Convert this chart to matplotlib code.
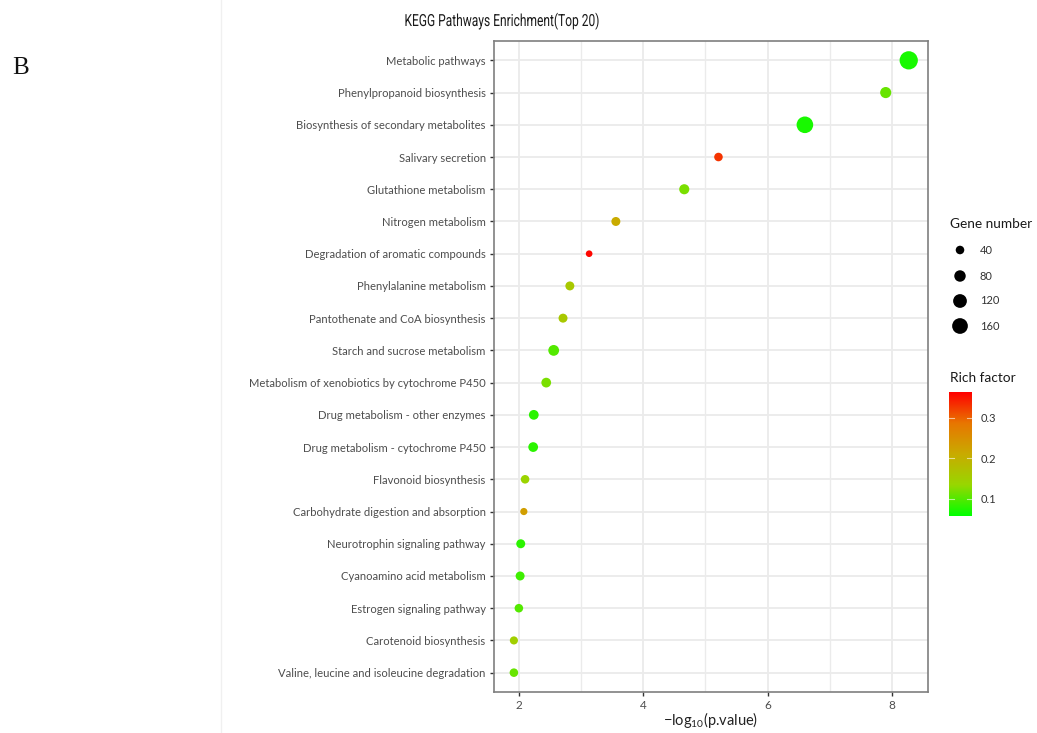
import matplotlib
matplotlib.use('Agg')
import matplotlib.pyplot as plt
import numpy as np
from matplotlib.colors import LinearSegmentedColormap, Normalize
from matplotlib.lines import Line2D
from matplotlib.textpath import TextPath
from matplotlib.patches import PathPatch
from matplotlib.font_manager import FontProperties
from matplotlib.transforms import Affine2D

pathways = [
    'Metabolic pathways',
    'Phenylpropanoid biosynthesis',
    'Biosynthesis of secondary metabolites',
    'Salivary secretion',
    'Glutathione metabolism',
    'Nitrogen metabolism',
    'Degradation of aromatic compounds',
    'Phenylalanine metabolism',
    'Pantothenate and CoA biosynthesis',
    'Starch and sucrose metabolism',
    'Metabolism of xenobiotics by cytochrome P450',
    'Drug metabolism - other enzymes',
    'Drug metabolism - cytochrome P450',
    'Flavonoid biosynthesis',
    'Carbohydrate digestion and absorption',
    'Neurotrophin signaling pathway',
    'Cyanoamino acid metabolism',
    'Estrogen signaling pathway',
    'Carotenoid biosynthesis',
    'Valine, leucine and isoleucine degradation',
]
neg_log_p = [8.27, 7.90, 6.60, 5.21, 4.66, 3.56, 3.13, 2.82, 2.71, 2.56,
             2.44, 2.24, 2.23, 2.10, 2.08, 2.03, 2.02, 2.00, 1.92, 1.92]
gene_number = [220, 75, 180, 40, 60, 45, 20, 45, 45, 70,
               55, 55, 55, 40, 25, 45, 45, 40, 35, 40]
rich_factor = [0.07, 0.11, 0.07, 0.33, 0.12, 0.21, 0.36, 0.16, 0.16, 0.10,
               0.12, 0.08, 0.08, 0.14, 0.23, 0.08, 0.09, 0.10, 0.15, 0.11]

size_breaks = [40, 80, 120, 160]
color_ticks = [0.1, 0.2, 0.3]
rich_min, rich_max = 0.058, 0.364
title = 'KEGG Pathways Enrichment(Top 20)'

# green -> red gradient interpolated through Lab, like ggplot's default
rg = LinearSegmentedColormap.from_list('rg', [
    (0.00, (0 / 255, 255 / 255, 0)),
    (0.25, (152 / 255, 215 / 255, 0)),
    (0.50, (201 / 255, 171 / 255, 0)),
    (0.75, (232 / 255, 118 / 255, 0)),
    (1.00, (255 / 255, 0, 0)),
])
norm = Normalize(rich_min, rich_max)


def dot_size(n):
    return 8 + 0.75 * np.asarray(n)


W, H = 1037, 733
fig = plt.figure(figsize=(W / 100, H / 100), dpi=100)
fig.patch.set_facecolor('white')

label_font = ['Lato', 'DejaVu Sans']
ax = fig.add_axes([494 / W, 1 - 692 / H, (928 - 494) / W, (692 - 41) / H])

y = np.arange(len(pathways))[::-1]
ax.scatter(neg_log_p, y, s=dot_size(gene_number), c=rich_factor, cmap=rg,
           norm=norm, zorder=3, linewidths=0)

ax.set_xlim(1.6, 8.58)
ax.set_ylim(-0.6, len(pathways) - 0.4)
ax.set_xticks([2, 4, 6, 8])
ax.set_xticks([3, 5, 7], minor=True)
ax.set_yticks(y)
ax.set_yticklabels(pathways, fontsize=8.1, color='#4d4d4d', family=label_font)
for lab in ax.get_xticklabels():
    lab.set_fontsize(8.5)
    lab.set_color('#4d4d4d')
    lab.set_family(label_font)
ax.tick_params(axis='both', which='major', length=3, width=1, color='#333333', pad=3)
ax.tick_params(axis='x', which='minor', length=0)
ax.grid(True, which='major', color='#ebebeb', linewidth=1.3, zorder=0)
ax.grid(True, which='minor', axis='x', color='#ebebeb', linewidth=1.0, zorder=0)
ax.set_axisbelow(True)
for sp in ax.spines.values():
    sp.set_color('#7f7f7f')
    sp.set_linewidth(1.2)

ax.set_xlabel(r'$\mathregular{-log_{10}}$(p.value)', fontsize=10.5,
              color='#222222', family=label_font, va='center')
ax.xaxis.set_label_coords(0.5, -(720 - 692) / (692 - 41))

# title in a narrow face: Roboto outlines squeezed horizontally
tp = TextPath((0, 0), title, size=12, prop=FontProperties(family='Roboto'))
ext = tp.get_extents()
sx = 0.72
cx, cy = 502 / 100, (H - 26) / 100
tr = (Affine2D().translate(-(ext.x0 + ext.width / 2), 0).scale(sx / 72, 1 / 72)
      .translate(cx, cy) + fig.dpi_scale_trans)
fig.add_artist(PathPatch(tp, transform=tr, facecolor='#1a1a1a', edgecolor='none'))

fig.text(12 / W, 1 - 68 / H, 'B', ha='left', va='center', fontsize=18,
         family='Liberation Serif', color='#111111')

# thin separator at the left of the chart area
fig.add_artist(Line2D([221 / W, 221 / W], [0, 1], color='#f0f0f0', linewidth=1))

# size legend
fig.text(950 / W, 1 - 224 / H, 'Gene number', ha='left', va='center',
         fontsize=9.8, color='#1a1a1a', family=label_font)
leg_ax = fig.add_axes([945 / W, 1 - 338 / H, 80 / W, 100 / H])
leg_ax.set_xlim(0, 80)
leg_ax.set_ylim(338, 238)
leg_y = [250, 276, 301, 326]
leg_ax.scatter([15] * len(size_breaks), leg_y, s=dot_size(size_breaks),
               color='black', linewidths=0)
for yy, b in zip(leg_y, size_breaks):
    leg_ax.text(35, yy, str(b), ha='left', va='center', fontsize=8,
                color='#333333', family=label_font)
leg_ax.axis('off')

# colour legend
fig.text(950 / W, 1 - 378 / H, 'Rich factor', ha='left', va='center',
         fontsize=9.8, color='#1a1a1a', family=label_font)
cax = fig.add_axes([949 / W, 1 - 516 / H, 23 / W, (516 - 392) / H])
grad = np.linspace(rich_min, rich_max, 256).reshape(-1, 1)
cax.imshow(grad, aspect='auto', origin='lower', cmap=rg, norm=norm,
           extent=[0, 1, rich_min, rich_max])
cax.set_xticks([])
cax.set_ylim(rich_min, rich_max)
cax.yaxis.tick_right()
cax.set_yticks(color_ticks)
cax.set_yticklabels([str(t) for t in color_ticks], fontsize=8, color='#333333',
                    family=label_font)
cax.tick_params(axis='y', length=0, pad=6)
for t in color_ticks:
    cax.plot([0, 0.2], [t, t], color='white', lw=0.8, alpha=0.6)
    cax.plot([0.8, 1], [t, t], color='white', lw=0.8, alpha=0.6)
for sp in cax.spines.values():
    sp.set_visible(False)

fig.savefig('out.png', dpi=100)
